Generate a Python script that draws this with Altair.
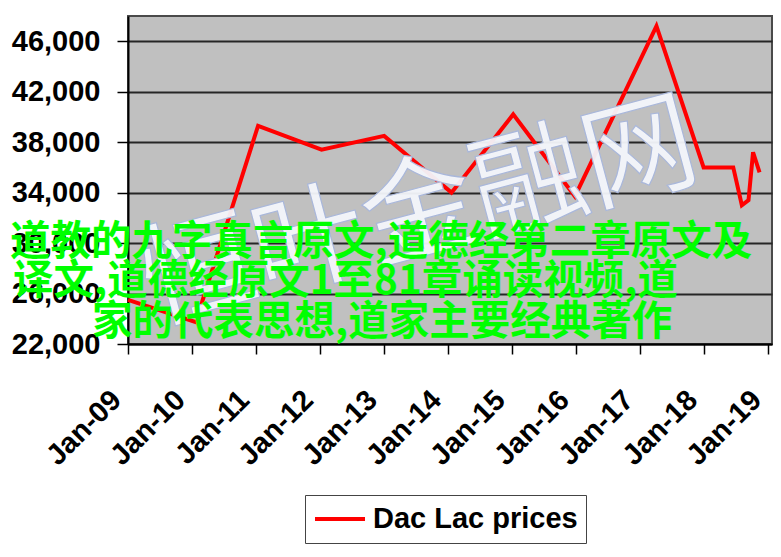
import altair as alt
import pandas as pd

# ---- data ----
dates = ["2009-01-01", "2010-02-01", "2010-03-01", "2011-01-13", "2012-01-10",
         "2013-01-01", "2014-01-20", "2015-01-07", "2015-12-25", "2017-04-03",
         "2017-12-28", "2018-06-15", "2018-08-03", "2018-09-10", "2018-10-06",
         "2018-11-12"]
prices = [25500, 23700, 25400, 39300, 37400,
          38500, 34000, 40200, 33700, 47200,
          36000, 36000, 33000, 33400, 37200,
          35600]
series_name = "Dac Lac prices"
tick_years = list(range(2009, 2020))
y_ticks = [22000, 26000, 30000, 34000, 38000, 42000, 46000]

watermark = "恒叶金融网"
green_lines = ["道教的九字真言原文,道德经第二章原文及",
               "译文,道德经原文1至81章诵读视频,道",
               "家的代表思想,道家主要经典著作"]

df = pd.DataFrame({"date": dates, "price": prices, "series": [series_name] * len(dates)})

LAT = "Liberation Sans"

x_enc = alt.X(
    "date:T",
    scale=alt.Scale(type="utc",
                    domain=[alt.DateTime(year=2009, month=1, date=1, utc=True),
                            alt.DateTime(year=2019, month=1, date=22, utc=True)]),
    axis=alt.Axis(
        values=[alt.DateTime(year=y, month=1, date=1, utc=True) for y in tick_years],
        format="%b-%y", title=None, grid=False,
        labelAngle=315, labelAlign="right", labelBaseline="middle",
        labelFont=LAT, labelFontSize=29, labelFontWeight="bold", labelColor="black",
        labelPadding=41, labelOffset=-12, labelOverlap=False, labelBound=False,
        labelFlush=False,
        tickSize=10, tickColor="black", tickWidth=1.5,
        domainColor="black", domainWidth=2,
    ),
)
y_enc = alt.Y(
    "price:Q",
    scale=alt.Scale(domain=[22000, 48000], nice=False, zero=False),
    axis=alt.Axis(
        values=y_ticks, format=",d", title=None,
        labelFont=LAT, labelFontSize=29, labelFontWeight="bold", labelColor="black",
        labelPadding=17, tickSize=11, tickColor="black", tickWidth=1.5,
        domainColor="black", domainWidth=2,
        grid=True, gridColor="#262626", gridWidth=2,
    ),
)

line = alt.Chart(df).mark_line(strokeWidth=4, interpolate="linear").encode(
    x=x_enc,
    y=y_enc,
    color=alt.Color(
        "series:N",
        scale=alt.Scale(range=["#ff0000"]),
        legend=alt.Legend(
            title=None, orient="none", legendX=177, legendY=479,
            symbolType="stroke", symbolSize=2500, symbolStrokeWidth=4,
            clipHeight=32,
            labelFont=LAT, labelFontSize=29, labelFontWeight="bold", labelColor="black",
            labelOffset=6, labelLimit=0, padding=8,
            strokeColor="#444444", fillColor="white",
        ),
    ),
)

dummy = pd.DataFrame({"k": [0]})

wm = alt.Chart(dummy).mark_text(
    text=watermark, font="Noto Sans CJK SC", fontSize=114, angle=345,
    align="center", baseline="middle", fill="#f3f5fb", fillOpacity=0.95,
    stroke="#a9b7da", strokeWidth=1.2,
).encode(x=alt.value(292), y=alt.value(200))

g_pos = [(-118, 227), (-115, 266), (-36, 307)]
green = [
    alt.Chart(dummy).mark_text(
        text=t, font="Noto Sans CJK SC", fontSize=40.5, fontWeight="bold",
        align="left", baseline="middle", color="#00ff00",
    ).encode(x=alt.value(px), y=alt.value(py))
    for t, (px, py) in zip(green_lines, g_pos)
]

chart = alt.layer(line, wm, *green).properties(
    width=644, height=328,
    autosize=alt.AutoSizeParams(type="none"),
    padding={"left": 120, "top": 8, "right": 1, "bottom": 203},
    background="white",
).configure_view(
    fill="#c0c0c0", stroke="#4a4a4a", strokeWidth=2,
)

chart.save("out.html", embed_options={"renderer": "svg", "actions": False})
